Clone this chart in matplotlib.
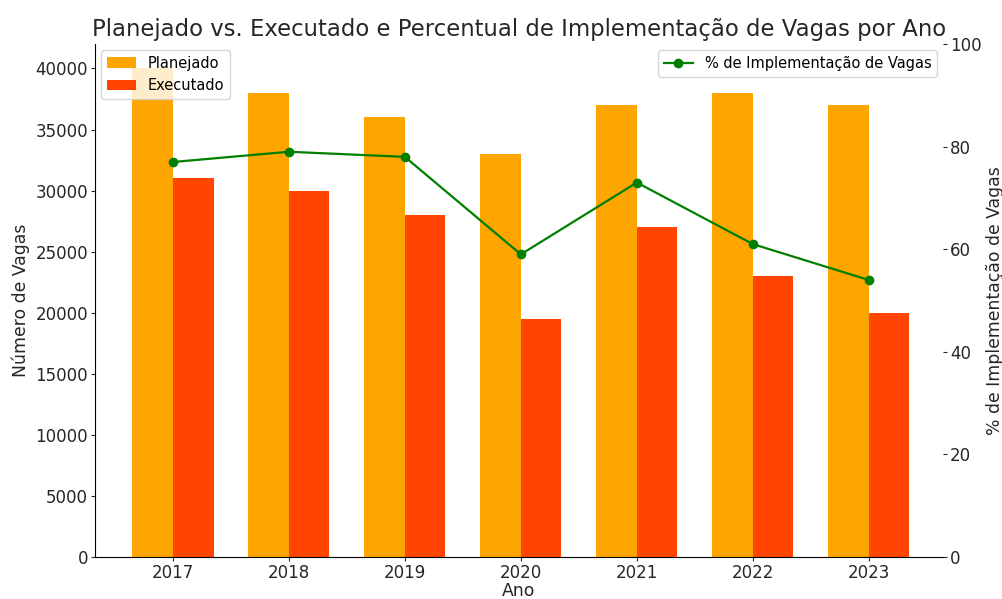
import matplotlib
matplotlib.use("Agg")
import matplotlib.pyplot as plt
import numpy as np

anos = ["2017", "2018", "2019", "2020", "2021", "2022", "2023"]
planejado = [40000, 38000, 36000, 33000, 37000, 38000, 37000]
executado = [31000, 30000, 28000, 19500, 27000, 23000, 20000]
percentual = [77, 79, 78, 59, 73, 61, 54]

plt.rcParams['font.family'] = ['DejaVu Sans']
txt = '#262626'
fig = plt.figure(figsize=(10.03, 5.99), dpi=100)
ax = fig.add_axes([0.0947, 0.0701, 0.8455, 0.8564])
x = np.arange(len(anos))
w = 0.35
ax.bar(x - w/2, planejado, w, color='#FFA500', label='Planejado')
ax.bar(x + w/2, executado, w, color='#FF4500', label='Executado')
ax.set_xticks(x)
ax.set_xticklabels(anos)
ax.set_ylim(0, 42000)
ax.set_xlim(-0.672, 6.64)
ax.set_xlabel('Ano', fontsize=12.4, color=txt, labelpad=0)
ax.set_ylabel('Número de Vagas', fontsize=12.4, color=txt, labelpad=4)
ax.tick_params(labelsize=12, colors=txt, length=3, pad=2)
for s in ['top', 'right']:
    ax.spines[s].set_visible(False)
ax.legend(loc='upper left', fontsize=10.5, handlelength=2.0, borderaxespad=0.4)

ax2 = ax.twinx()
ax2.plot(x, percentual, color='green', marker='o', markersize=6, linewidth=1.6,
         label='% de Implementação de Vagas')
ax2.set_ylim(0, 100)
ax2.set_ylabel('% de Implementação de Vagas', fontsize=12.4, color=txt, labelpad=3)
ax2.tick_params(labelsize=12, colors=txt, length=3, pad=2)
for s in ['top', 'right', 'left', 'bottom']:
    ax2.spines[s].set_visible(False)
ax2.legend(loc='upper right', fontsize=10.5, borderaxespad=0.4)

ax.set_title('Planejado vs. Executado e Percentual de Implementação de Vagas por Ano',
             fontsize=16.4, color=txt, pad=6)
fig.savefig('out.png', dpi=100)
